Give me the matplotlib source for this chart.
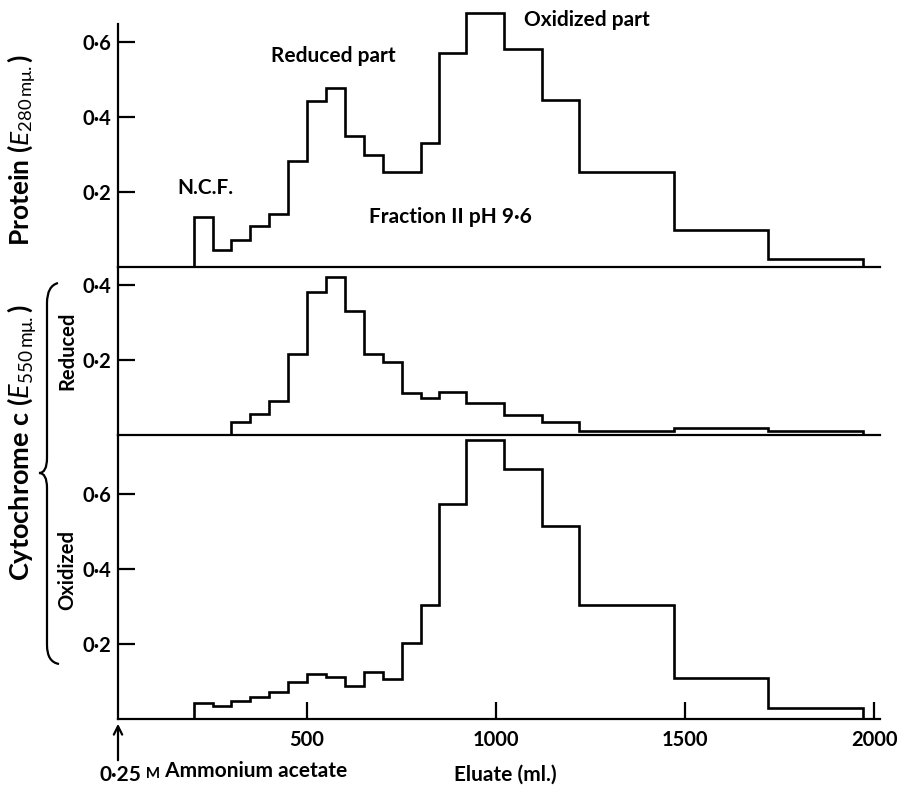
import matplotlib
matplotlib.use("Agg")
import matplotlib.pyplot as plt
from matplotlib.path import Path
from matplotlib.patches import PathPatch

# ---------------- data ----------------
protein_edges = [200, 250, 300, 350, 400, 450, 500, 550, 600, 650, 700, 800,
                 850, 920, 1020, 1120, 1220, 1470, 1720, 1970]
protein_vals = [0.133, 0.046, 0.072, 0.110, 0.140, 0.283, 0.443, 0.477, 0.349,
                0.299, 0.253, 0.331, 0.572, 0.677, 0.581, 0.445, 0.253, 0.099, 0.021]

reduced_edges = [300, 350, 400, 450, 500, 550, 600, 650, 700, 750, 800, 850,
                 920, 1020, 1120, 1220, 1470, 1720, 1970]
reduced_vals = [0.035, 0.056, 0.092, 0.215, 0.381, 0.421, 0.331, 0.215, 0.195,
                0.112, 0.100, 0.115, 0.085, 0.053, 0.035, 0.011, 0.018, 0.011]

oxidized_edges = [200, 250, 300, 350, 400, 450, 500, 550, 600, 650, 700, 750,
                  800, 850, 920, 1020, 1120, 1220, 1470, 1720, 1970]
oxidized_vals = [0.043, 0.035, 0.048, 0.059, 0.071, 0.098, 0.121, 0.113, 0.088,
                 0.125, 0.107, 0.203, 0.304, 0.573, 0.744, 0.667, 0.515, 0.304,
                 0.109, 0.029]

x_ticks = [500, 1000, 1500, 2000]
x_ticklabels = ["500", "1000", "1500", "2000"]
top_yticks = [0.2, 0.4, 0.6]
top_yticklabels = ["0·2", "0·4", "0·6"]
mid_yticks = [0.2, 0.4]
mid_yticklabels = ["0·2", "0·4"]
bot_yticks = [0.2, 0.4, 0.6]
bot_yticklabels = ["0·2", "0·4", "0·6"]

# ---------------- figure ----------------
FONT = ["Lato", "DejaVu Sans"]
plt.rcParams["font.family"] = FONT
plt.rcParams["mathtext.fontset"] = "custom"
plt.rcParams["mathtext.rm"] = "Lato"
plt.rcParams["mathtext.it"] = "Lato:italic"

W, H = 901, 785
fig = plt.figure(figsize=(W / 100, H / 100), dpi=100)


def fx(px):
    return px / W


def fy(py):
    return 1 - py / H


left_px, right_px = 118, 880
XMAX = 2015
TICKFS = 14.5


def make_ax(top_px, bot_px, ymax):
    ax = fig.add_axes([fx(left_px), fy(bot_px), fx(right_px - left_px),
                       (bot_px - top_px) / H])
    ax.set_xlim(0, XMAX)
    ax.set_ylim(0, ymax)
    ax.patch.set_alpha(0)
    for s in ("top", "right"):
        ax.spines[s].set_visible(False)
    for s in ("left", "bottom"):
        ax.spines[s].set_linewidth(1.6)
    ax.tick_params(axis="y", direction="in", length=12, width=1.6, pad=5,
                   labelsize=TICKFS)
    ax.tick_params(axis="x", direction="in", length=12, width=1.6, pad=8,
                   labelsize=TICKFS)
    return ax


ax1 = make_ax(24, 267, 243 / 375)
ax2 = make_ax(267, 435, 168 / 375)
ax3 = make_ax(435, 719, 284 / 375)

lw = 1.9
ax1.stairs(protein_vals, protein_edges, baseline=0, color="black", lw=lw,
           clip_on=False)
ax2.stairs(reduced_vals, reduced_edges, baseline=0, color="black", lw=lw,
           clip_on=False)
ax3.stairs(oxidized_vals, oxidized_edges, baseline=0, color="black", lw=lw,
           clip_on=False)

for ax, yt, ytl in ((ax1, top_yticks, top_yticklabels),
                    (ax2, mid_yticks, mid_yticklabels),
                    (ax3, bot_yticks, bot_yticklabels)):
    ax.set_yticks(yt)
    ax.set_yticklabels(ytl, fontweight="bold")

for ax in (ax1, ax2):
    ax.set_xticks([])
ax3.set_xticks(x_ticks)
ax3.set_xticklabels(x_ticklabels, fontweight="bold")

# ---------------- annotations in pixel coordinates ----------------
ov = fig.add_axes([0, 0, 1, 1])
ov.set_xlim(0, W)
ov.set_ylim(H, 0)
ov.axis("off")
ov.patch.set_alpha(0)

txt = dict(color="black", fontweight="bold")
ANN = 15
ov.text(22, 150, r"Protein ($E_{280\,\mathrm{m\mu.}}$)", rotation=90,
        ha="center", va="center", fontsize=19, **txt)
ov.text(22, 443, r"Cytochrome c ($E_{550\,\mathrm{m\mu.}}$)", rotation=90,
        ha="center", va="center", fontsize=19.5, **txt)
ov.text(67, 351, "Reduced", rotation=90, ha="center", va="center",
        fontsize=14.5, **txt)
ov.text(67, 570, "Oxidized", rotation=90, ha="center", va="center",
        fontsize=14.5, **txt)
ov.text(205, 188, "N.C.F.", ha="center", va="center", fontsize=ANN, **txt)
ov.text(333, 56, "Reduced part", ha="center", va="center", fontsize=ANN, **txt)
ov.text(587, 20, "Oxidized part", ha="center", va="center", fontsize=ANN, **txt)
ov.text(450, 217, "Fraction II pH 9·6", ha="center", va="center",
        fontsize=ANN, **txt)
ov.text(505, 775, "Eluate (ml.)", ha="center", va="center", fontsize=ANN, **txt)

t1 = ov.text(100, 775, "0·25", ha="left", va="center", fontsize=ANN, **txt)
t2 = ov.annotate(" M", xy=(1, 0.22), xycoords=t1, ha="left", va="bottom",
                 fontsize=11, **txt)
ov.annotate(" Ammonium acetate", xy=(1, 0.0), xycoords=t2, ha="left",
            va="bottom", fontsize=ANN, **txt)

# arrow marking the start of ammonium acetate
ov.annotate("", xy=(118, 721), xytext=(118, 763),
            arrowprops=dict(arrowstyle="->,head_length=0.6,head_width=0.3",
                            lw=1.6, color="black"))

# curly brace grouping the cytochrome panels
verts = [(58, 283), (47, 286), (47, 303),
         (47, 458),
         (47, 473), (39, 473),
         (47, 473), (47, 488),
         (47, 645),
         (47, 662), (59, 664)]
codes = [Path.MOVETO, Path.CURVE3, Path.CURVE3,
         Path.LINETO,
         Path.CURVE3, Path.CURVE3,
         Path.CURVE3, Path.CURVE3,
         Path.LINETO,
         Path.CURVE3, Path.CURVE3]
ov.add_patch(PathPatch(Path(verts, codes), fill=False, lw=1.6,
                       edgecolor="black"))

fig.savefig("out.png", dpi=100)
